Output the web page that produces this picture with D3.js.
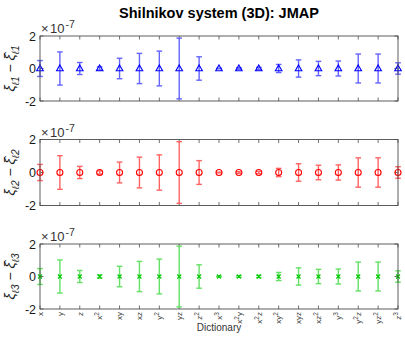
<!DOCTYPE html>
<html>
<head>
<meta charset="utf-8">
<script src="https://cdn.jsdelivr.net/npm/d3@7"></script>
<style>
  body { margin: 0; background: #fff; }
  text { font-family: "Liberation Sans", Arial, sans-serif; }
</style>
</head>
<body>
<svg id="canvas" width="405" height="338"></svg>
<script>
// dictionary terms (base, superscript, trailing part for labels)
const terms = [
    ["x", ""], ["y", ""], ["z", ""], ["x", "2"], ["xy", ""], ["xz", ""], ["y", "2"], ["yz", ""],
    ["z", "2"], ["x", "3"], ["x", "2", "y"], ["x", "2", "z"], ["xy", "2"], ["xyz", ""],
    ["xz", "2"], ["y", "3"], ["y", "2", "z"], ["yz", "2"], ["z", "3"]
]

// mean error (x1e-7) and half-width of the error bar (x1e-7)
const mean1 = [0, 0, 0, 0, 0, 0, 0, 0, 0, 0, 0, 0, 0, 0, 0, 0, 0, 0, 0]
const err1 = [0.49, 1.02, 0.37, 0.1, 0.63, 0.93, 1.07, 1.87, 0.72, 0.02, 0.05, 0.07, 0.25, 0.53, 0.44, 0.46, 0.89, 0.89, 0.35]
const mean2 = [0, 0, 0, 0, 0, 0, 0, 0, 0, 0, 0, 0, 0, 0, 0, 0, 0, 0, 0]
const err2 = [0.49, 1.02, 0.37, 0.1, 0.63, 0.93, 1.07, 1.87, 0.72, 0.02, 0.05, 0.07, 0.25, 0.53, 0.44, 0.46, 0.89, 0.89, 0.35]
const mean3 = [0, 0, 0, 0, 0, 0, 0, 0, 0, 0, 0, 0, 0, 0, 0, 0, 0, 0, 0]
const err3 = [0.49, 1.02, 0.37, 0.1, 0.63, 0.93, 1.07, 1.87, 0.72, 0.02, 0.05, 0.07, 0.25, 0.53, 0.44, 0.46, 0.89, 0.89, 0.35]
const yTicks = [-2, 0, 2]

const canvas = d3.select('#canvas')

const x = d3.scaleLinear().domain([1, terms.length]).range([40, 398])

const panels = [
    { top: 36, bottom: 101, mean: mean1, err: err1, idx: "1", marker: "tri",
      color: "#0000ff", barColor: "rgb(100,100,255)" },
    { top: 139.5, bottom: 205.5, mean: mean2, err: err2, idx: "2", marker: "circle",
      color: "#ff0000", barColor: "rgb(255,100,100)" },
    { top: 244, bottom: 309, mean: mean3, err: err3, idx: "3", marker: "cross",
      color: "#00c800", barColor: "rgb(100,225,100)" }
]

canvas.append('text')
    .attr('x', 219).attr('y', 18)
    .attr('text-anchor', 'middle')
    .attr('font-size', 14.5).attr('font-weight', 'bold')
    .attr('fill', '#000')
    .text('Shilnikov system (3D): JMAP')

const axisColor = "#4d4d4d"

panels.forEach((p, pi) => {
    const y = d3.scaleLinear().domain([-2, 2]).range([p.bottom, p.top])
    const g = canvas.append('g')

    // ticks top & bottom, inward
    terms.forEach((t, i) => {
        const xi = x(i + 1)
        g.append('line').attr('x1', xi).attr('x2', xi)
            .attr('y1', p.bottom).attr('y2', p.bottom - 3.5)
            .attr('stroke', axisColor).attr('stroke-width', 0.8)
        g.append('line').attr('x1', xi).attr('x2', xi)
            .attr('y1', p.top).attr('y2', p.top + 3.5)
            .attr('stroke', axisColor).attr('stroke-width', 0.8)
    })
    yTicks.forEach((v) => {
        g.append('line').attr('x1', 40).attr('x2', 43.5)
            .attr('y1', y(v)).attr('y2', y(v))
            .attr('stroke', axisColor).attr('stroke-width', 0.8)
        g.append('line').attr('x1', 398).attr('x2', 394.5)
            .attr('y1', y(v)).attr('y2', y(v))
            .attr('stroke', axisColor).attr('stroke-width', 0.8)
        g.append('text')
            .attr('x', 36).attr('y', y(v) + 4.5)
            .attr('text-anchor', 'end')
            .attr('font-size', 12.5)
            .attr('fill', '#1a1a1a')
            .text(v === -2 ? "-2" : v)
    })

    // exponent label
    const ex = g.append('text')
        .attr('x', 41).attr('y', p.top - 3)
        .attr('font-size', 13).attr('fill', '#333')
    ex.append('tspan').text('×')
    ex.append('tspan').attr('dx', 1.5).text('10')
    ex.append('tspan').attr('dy', -5).attr('dx', 1).attr('font-size', 10.5).text('-7')

    // y label
    const cy = (p.top + p.bottom) / 2
    const yl = g.append('text')
        .attr('transform', `translate(15,${cy}) rotate(-90)`)
        .attr('text-anchor', 'middle')
        .attr('font-size', 14)
        .attr('fill', '#222')
    yl.append('tspan').attr('font-style', 'italic').text('ξ')
    yl.append('tspan').attr('dy', 3.5).attr('font-size', 10).attr('font-style', 'italic').text('ℓ' + p.idx)
    yl.append('tspan').attr('dy', -3.5).text(' − ')
    yl.append('tspan').attr('font-style', 'italic').text('ξ̂')
    yl.append('tspan').attr('dy', 3.5).attr('font-size', 10).attr('font-style', 'italic').text('ℓ' + p.idx)

    // error bars
    const bars = g.append('g')
        .attr('stroke', p.barColor).attr('stroke-width', 1.4).attr('fill', 'none')
    p.err.forEach((e, i) => {
        const xi = x(i + 1)
        const lo = y(p.mean[i] - e), hi = y(p.mean[i] + e)
        bars.append('line').attr('x1', xi).attr('x2', xi).attr('y1', lo).attr('y2', hi)
        bars.append('line').attr('x1', xi - 2.8).attr('x2', xi + 2.8).attr('y1', lo).attr('y2', lo)
        bars.append('line').attr('x1', xi - 2.8).attr('x2', xi + 2.8).attr('y1', hi).attr('y2', hi)
    })

    // markers
    const marks = g.append('g')
        .attr('stroke', p.color).attr('stroke-width', 1.1).attr('fill', 'none')
    p.mean.forEach((m, i) => {
        const xi = x(i + 1), yi = y(m)
        if (p.marker === "tri") {
            marks.append('path')
                .attr('d', `M${xi},${yi - 3.6}L${xi + 3.3},${yi + 2.2}L${xi - 3.3},${yi + 2.2}Z`)
        } else if (p.marker === "circle") {
            marks.append('circle').attr('cx', xi).attr('cy', yi).attr('r', 3)
        } else {
            marks.append('path')
                .attr('d', `M${xi - 2},${yi - 2}L${xi + 2},${yi + 2}M${xi - 2},${yi + 2}L${xi + 2},${yi - 2}`)
        }
    })

    // box
    g.append('rect')
        .attr('x', 40).attr('y', p.top)
        .attr('width', 358).attr('height', p.bottom - p.top)
        .attr('fill', 'none').attr('stroke', axisColor).attr('stroke-width', 0.9)

    // tick labels on bottom panel
    if (pi === panels.length - 1) {
        terms.forEach((t, i) => {
            const tl = g.append('text')
                .attr('transform', `translate(${x(i + 1) + 2.8},${p.bottom + 3}) rotate(-90)`)
                .attr('text-anchor', 'end')
                .attr('font-size', 8)
                .attr('fill', '#444')
            tl.append('tspan').text(t[0])
            if (t[1]) tl.append('tspan').attr('dy', -3).attr('font-size', 6.5).text(t[1])
            if (t[2]) tl.append('tspan').attr('dy', 3).text(t[2])
        })
        g.append('text')
            .attr('x', 219).attr('y', 331)
            .attr('text-anchor', 'middle')
            .attr('font-size', 10)
            .attr('fill', '#333')
            .text('Dictionary')
    }
})
</script>
</body>
</html>
